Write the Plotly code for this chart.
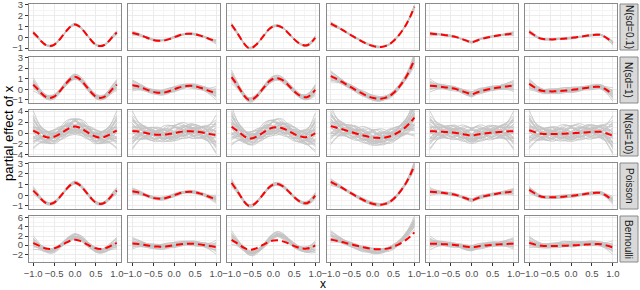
import plotly.graph_objects as go

# ---------------- data ----------------
X = [-1.0, -0.9, -0.8, -0.7, -0.6, -0.5, -0.4, -0.3, -0.2, -0.1, 0.0,
     0.1, 0.2, 0.3, 0.4, 0.5, 0.6, 0.7, 0.8, 0.9, 1.0]

# true partial effects (red dashed), one per column
f1 = [0.43, 0.05, -0.40, -0.72, -0.82, -0.70, -0.35, 0.12, 0.60, 1.00, 1.18,
      1.00, 0.60, 0.12, -0.35, -0.70, -0.82, -0.72, -0.40, 0.05, 0.43]
f2 = [0.38, 0.30, 0.18, 0.03, -0.12, -0.25, -0.32, -0.33, -0.27, -0.15, 0.00,
      0.14, 0.25, 0.31, 0.32, 0.27, 0.17, 0.05, -0.10, -0.25, -0.40]
f3 = [1.15, 0.60, 0.00, -0.60, -0.98, -0.95, -0.65, -0.20, 0.30, 0.75, 1.00,
      1.05, 0.90, 0.60, 0.20, -0.20, -0.52, -0.72, -0.75, -0.50, -0.05]
f4 = [1.25, 1.05, 0.85, 0.62, 0.38, 0.15, -0.08, -0.30, -0.50, -0.68, -0.80,
      -0.88, -0.90, -0.82, -0.65, -0.35, 0.05, 0.55, 1.15, 1.90, 2.80]
f5 = [0.33, 0.30, 0.27, 0.22, 0.17, 0.11, 0.05, -0.08, -0.22, -0.36, -0.47,
      -0.34, -0.20, -0.09, 0.00, 0.07, 0.14, 0.20, 0.25, 0.30, 0.33]
f6 = [0.50, 0.25, 0.00, -0.15, -0.20, -0.20, -0.20, -0.17, -0.15, -0.11, -0.07,
      -0.02, 0.03, 0.09, 0.15, 0.19, 0.23, 0.22, 0.05, -0.20, -0.50]
TRUTH = [f1, f2, f3, f4, f5, f6]

# centres of the Bernoulli replicate fits (biased), one per column
b1 = [0.5, 0.0, -0.6, -1.1, -1.3, -1.1, -0.5, 0.2, 1.0, 1.6, 1.9,
      1.6, 1.0, 0.2, -0.5, -1.1, -1.3, -1.1, -0.6, 0.0, 0.5]
b2 = [0.5, 0.4, 0.25, 0.05, -0.15, -0.3, -0.4, -0.4, -0.3, -0.15, 0.05,
      0.25, 0.4, 0.45, 0.45, 0.35, 0.2, 0.05, -0.15, -0.35, -0.5]
b3 = [1.6, 0.9, 0.0, -0.9, -1.6, -1.8, -1.4, -0.7, 0.2, 1.2, 2.0,
      2.3, 2.0, 1.4, 0.6, -0.1, -0.6, -0.9, -1.0, -0.8, -0.3]
b4 = [2.0, 1.6, 1.2, 0.8, 0.4, 0.0, -0.35, -0.7, -0.95, -1.15, -1.25,
      -1.3, -1.25, -1.1, -0.8, -0.35, 0.3, 1.1, 2.2, 3.4, 4.8]
b5 = [0.45, 0.4, 0.35, 0.3, 0.2, 0.1, 0.0, -0.15, -0.35, -0.55, -0.65,
      -0.5, -0.3, -0.1, 0.05, 0.15, 0.25, 0.3, 0.35, 0.4, 0.45]
b6 = [0.8, 0.4, 0.1, -0.1, -0.15, -0.15, -0.1, 0.0, 0.1, 0.15, 0.2,
      0.25, 0.3, 0.35, 0.4, 0.4, 0.35, 0.2, 0.0, -0.3, -0.6]
BERN = [b1, b2, b3, b4, b5, b6]

# replicate deviation shapes (unit scale), estimated from the grey tangles
DEV = [
    [1.8, 1.0, 0.4, 0.0, -0.3, -0.5, -0.4, -0.1, 0.3, 0.6, 0.7, 0.5, 0.2, -0.2, -0.5, -0.6, -0.4, 0.0, 0.5, 1.0, 1.6],
    [-1.5, -0.9, -0.3, 0.2, 0.5, 0.6, 0.4, 0.0, -0.4, -0.7, -0.8, -0.6, -0.2, 0.3, 0.7, 0.9, 0.8, 0.4, -0.2, -0.8, -1.4],
    [0.6, 0.5, 0.5, 0.6, 0.8, 0.9, 0.8, 0.5, 0.1, -0.3, -0.5, -0.4, -0.1, 0.2, 0.4, 0.3, 0.0, -0.4, -0.9, -1.5, -2.2],
    [-2.4, -1.6, -0.9, -0.4, -0.1, 0.0, -0.1, -0.3, -0.5, -0.5, -0.3, 0.1, 0.5, 0.8, 0.9, 0.7, 0.4, 0.2, 0.2, 0.5, 1.0],
    [0.2, 0.1, -0.1, -0.4, -0.7, -0.9, -0.9, -0.6, -0.2, 0.3, 0.8, 1.1, 1.2, 1.0, 0.6, 0.1, -0.3, -0.5, -0.4, 0.0, 0.6],
    [1.2, 1.0, 0.9, 0.8, 0.6, 0.3, -0.1, -0.4, -0.5, -0.3, 0.1, 0.5, 0.7, 0.6, 0.3, -0.1, -0.5, -0.8, -1.0, -1.1, -1.2],
    [-0.4, 0.0, 0.4, 0.7, 0.8, 0.6, 0.2, -0.3, -0.7, -1.0, -1.0, -0.7, -0.3, 0.1, 0.3, 0.4, 0.5, 0.7, 1.0, 1.5, 2.0],
    [0.9, 0.3, -0.2, -0.6, -0.8, -0.7, -0.3, 0.2, 0.7, 1.0, 1.0, 0.7, 0.3, -0.2, -0.6, -0.8, -0.8, -0.6, -0.3, 0.0, 0.3],
    [-0.8, -0.9, -0.9, -0.7, -0.4, 0.0, 0.4, 0.6, 0.6, 0.4, 0.1, -0.1, -0.2, -0.1, 0.1, 0.4, 0.6, 0.6, 0.3, -0.3, -1.0],
    [2.6, 1.6, 0.8, 0.3, 0.0, -0.1, 0.0, 0.2, 0.3, 0.2, 0.0, -0.3, -0.6, -0.8, -0.8, -0.5, -0.1, 0.3, 0.6, 0.6, 0.4],
    [-0.2, -0.4, -0.5, -0.4, -0.1, 0.3, 0.6, 0.7, 0.5, 0.1, -0.3, -0.7, -0.9, -0.9, -0.6, -0.1, 0.4, 0.8, 1.1, 1.3, 1.4],
    [0.4, 0.7, 0.9, 0.9, 0.6, 0.2, -0.2, -0.5, -0.6, -0.5, -0.2, 0.2, 0.5, 0.6, 0.5, 0.3, 0.2, 0.1, -0.1, -0.4, -0.8],
    [-1.0, -0.6, -0.2, 0.1, 0.2, 0.1, -0.2, -0.6, -0.9, -0.9, -0.6, -0.1, 0.4, 0.8, 1.0, 0.9, 0.6, 0.1, -0.4, -1.0, -1.7],
    [0.0, 0.2, 0.3, 0.2, 0.0, -0.2, -0.3, -0.2, 0.1, 0.5, 0.9, 1.1, 1.0, 0.6, 0.1, -0.4, -0.7, -0.8, -0.6, -0.2, 0.3],
    [1.4, 0.8, 0.3, 0.0, -0.1, 0.1, 0.4, 0.7, 0.8, 0.6, 0.2, -0.2, -0.5, -0.5, -0.3, 0.1, 0.5, 0.7, 0.7, 0.4, -0.1],
    [-1.0, -0.8, -0.5, -0.1, 0.3, 0.5, 0.4, 0.1, -0.3, -0.6, -0.6, -0.3, 0.1, 0.4, 0.5, 0.2, -0.2, -0.6, -0.8, -0.6, 0.0],
]

ROWS = ["N(sd=0.1)", "N(sd=1)", "N(sd=10)", "Poisson", "Bernoulli"]
ROW_SPREAD = [0.09, 0.25, 1.4, 0.15, 0.6]      # size of replicate scatter per row
ROW_NLINES = [8, 16, 16, 12, 16]
ROW_RANGE = [[-1.18, 3.06], [-1.3, 3.05], [-4.2, 4.2], [-1.3, 3.03], [-3.7, 6.4]]
ROW_TICKS = [[-1, 0, 1, 2, 3], [-1, 0, 1, 2, 3], [-4, -2, 0, 2, 4],
             [-1, 0, 1, 2, 3], [-2, 0, 2, 4, 6]]
X_TICKS = [-1.0, -0.5, 0.0, 0.5, 1.0]
X_MINOR = [-0.75, -0.25, 0.25, 0.75]

# ---------------- layout geometry ----------------
W, H = 640, 290
ML, MR, MT, MB = 29, 23, 4, 28
PW = W - ML - MR          # 588
PH = H - MT - MB          # 258
COL_PITCH, COL_W = 99.2, 92.0
ROW_PITCH, ROW_H = 53.0, 46.0

FONT = "Liberation Sans, Arial, Helvetica, sans-serif"
GREY_LINE = "#BEBEBE"
BORDER = "#8A8A8A"
TICK_SIZE = 9.5

fig = go.Figure()
layout = {}

for r in range(5):
    for c in range(6):
        k = r * 6 + c + 1
        xa = "x" if k == 1 else f"x{k}"
        ya = "y" if k == 1 else f"y{k}"
        centre = BERN[c] if r == 4 else TRUTH[c]

        # grey replicate lines
        gx, gy = [], []
        devs = DEV[:ROW_NLINES[r]]
        variants = list(devs)
        if r == 2:
            variants = variants + [d[::-1] for d in devs]
        if c % 2 == 1:
            variants = [d[::-1] for d in variants]
        for d in variants:
            gx += X + [None]
            gy += [m + ROW_SPREAD[r] * v for m, v in zip(centre, d)] + [None]
        fig.add_trace(go.Scatter(
            x=gx, y=gy, mode="lines", xaxis=xa, yaxis=ya,
            line=dict(color=GREY_LINE, width=0.8, shape="spline", smoothing=1.0),
            hoverinfo="skip", showlegend=False, opacity=0.9))
        # red dashed truth
        fig.add_trace(go.Scatter(
            x=X, y=TRUTH[c], mode="lines", xaxis=xa, yaxis=ya,
            line=dict(color="#FF0000", width=2, dash="7px,4px",
                      shape="spline", smoothing=1.0),
            hoverinfo="skip", showlegend=False))

        x0 = (c * COL_PITCH) / PW
        x1 = (c * COL_PITCH + COL_W) / PW
        ytop = 1 - (r * ROW_PITCH) / PH
        ybot = 1 - (r * ROW_PITCH + ROW_H) / PH

        rt = ROW_TICKS[r]
        step = rt[1] - rt[0]
        yminor = [t + step / 2 for t in [rt[0] - step] + rt]

        layout["xaxis" if k == 1 else f"xaxis{k}"] = dict(
            domain=[x0, x1], anchor=ya, range=[-1.1, 1.1],
            tickvals=X_TICKS, tickformat=".1f", tickangle=0,
            showticklabels=(r == 4), ticks="outside" if r == 4 else "",
            ticklen=3, tickwidth=1, tickcolor="#333333",
            tickfont=dict(family=FONT, size=TICK_SIZE, color="#4D4D4D"),
            showgrid=True, gridcolor="#EBEBEB", gridwidth=1,
            minor=dict(tickvals=X_MINOR, showgrid=True,
                       gridcolor="#F4F4F4", gridwidth=0.6),
            zeroline=False, showline=True, mirror=True,
            linecolor=BORDER, linewidth=1, fixedrange=True, automargin=False)
        layout["yaxis" if k == 1 else f"yaxis{k}"] = dict(
            domain=[ybot, ytop], anchor=xa, range=ROW_RANGE[r],
            tickvals=rt, tickangle=0,
            showticklabels=(c == 0), ticks="outside" if c == 0 else "",
            ticklen=3, tickwidth=1, tickcolor="#333333",
            tickfont=dict(family=FONT, size=TICK_SIZE, color="#4D4D4D"),
            showgrid=True, gridcolor="#EBEBEB", gridwidth=1,
            minor=dict(tickvals=yminor, showgrid=True,
                       gridcolor="#F4F4F4", gridwidth=0.6),
            zeroline=False, showline=True, mirror=True,
            linecolor=BORDER, linewidth=1, fixedrange=True, automargin=False)

# strips on the right
shapes, annotations = [], []
sx0 = (620 - ML) / PW
sx1 = (638 - ML) / PW
for r, lab in enumerate(ROWS):
    ytop = 1 - (r * ROW_PITCH) / PH
    ybot = 1 - (r * ROW_PITCH + ROW_H) / PH
    shapes.append(dict(type="rect", xref="paper", yref="paper",
                       x0=sx0, x1=sx1, y0=ybot, y1=ytop,
                       fillcolor="#D9D9D9", line=dict(color=BORDER, width=1),
                       layer="below"))
    annotations.append(dict(xref="paper", yref="paper", x=(sx0 + sx1) / 2,
                            y=(ybot + ytop) / 2, text=lab, showarrow=False,
                            textangle=90, xanchor="center", yanchor="middle",
                            font=dict(family=FONT, size=10, color="#1A1A1A")))

annotations.append(dict(xref="paper", yref="paper", x=(294 / PW),
                        y=(262 - 284) / PH, text="x", showarrow=False,
                        xanchor="center", yanchor="middle",
                        font=dict(family=FONT, size=12, color="#000000")))
annotations.append(dict(xref="paper", yref="paper", x=(8 - ML) / PW,
                        y=0.5, text="partial effect of x", showarrow=False,
                        textangle=-90, xanchor="center", yanchor="middle",
                        font=dict(family=FONT, size=13, color="#000000")))

fig.update_layout(
    width=W, height=H, margin=dict(l=ML, r=MR, t=MT, b=MB, pad=0),
    paper_bgcolor="white", plot_bgcolor="white",
    shapes=shapes, annotations=annotations, showlegend=False,
    **layout)

fig.write_html("out.html", config={"displayModeBar": False},
               post_script="document.body.style.margin='0';"
                           "document.body.style.overflow='hidden';")
